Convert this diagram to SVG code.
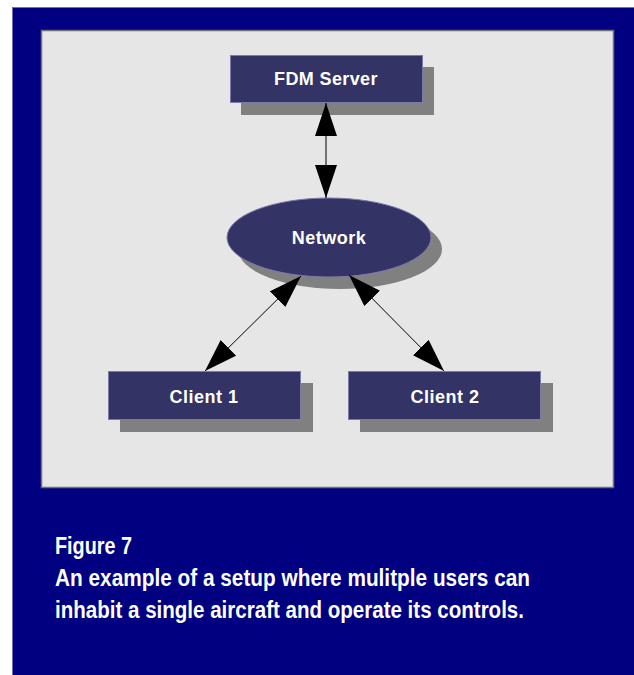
<svg xmlns="http://www.w3.org/2000/svg" width="634" height="675" viewBox="0 0 634 675">
  <defs>
    <style>
      .node { fill: #333366; stroke: #7a7aaa; stroke-width: 1; }
      .shadow { fill: #808080; }
      .label { font-family: "Liberation Sans", Arial, sans-serif; font-weight: bold; font-size: 18px; fill: #ffffff; text-anchor: middle; letter-spacing: 0.5px; }
      .cap { font-family: "Liberation Sans Narrow", "Liberation Sans", Arial, sans-serif; font-weight: bold; font-size: 24px; fill: #ffffff; }
      .conn { stroke: #000000; stroke-width: 1; fill: none; }
    </style>
    <marker id="arrow" viewBox="0 0 33 22" refX="33" refY="11" markerWidth="33" markerHeight="22" markerUnits="userSpaceOnUse" orient="auto-start-reverse">
      <path d="M0,0 L33,11 L0,22 z" fill="#000000"/>
    </marker>
  </defs>

  <rect x="0" y="0" width="634" height="675" fill="#ffffff"/>
  <rect x="12.5" y="7.5" width="622" height="668" fill="#000080" stroke="#7070b0" stroke-width="1"/>
  <rect x="41.5" y="30.5" width="572" height="457" fill="#e6e6e6" stroke="#707070" stroke-width="1.5"/>

  <g id="fdm-server">
    <rect class="shadow" x="241" y="67" width="193" height="48"/>
    <rect class="node" x="230.5" y="55.5" width="192" height="47"/>
    <text class="label" x="326" y="85" textLength="104">FDM Server</text>
  </g>

  <g id="network">
    <ellipse class="shadow" cx="340" cy="249" rx="102" ry="40"/>
    <ellipse class="node" cx="329" cy="237.5" rx="102" ry="39.5"/>
    <text class="label" x="329" y="244">Network</text>
  </g>

  <g id="client-1">
    <rect class="shadow" x="120" y="383" width="193" height="49"/>
    <rect class="node" x="108.5" y="371.5" width="192" height="48"/>
    <text class="label" x="204" y="402.5">Client 1</text>
  </g>

  <g id="client-2">
    <rect class="shadow" x="360" y="383" width="193" height="49"/>
    <rect class="node" x="348.5" y="371.5" width="192" height="48"/>
    <text class="label" x="445" y="402.5">Client 2</text>
  </g>

  <g id="connectors">
    <line class="conn" x1="326" y1="103" x2="326" y2="198" marker-start="url(#arrow)" marker-end="url(#arrow)"/>
    <line class="conn" x1="301" y1="276" x2="205" y2="371" marker-start="url(#arrow)" marker-end="url(#arrow)"/>
    <line class="conn" x1="349" y1="275" x2="444" y2="371" marker-start="url(#arrow)" marker-end="url(#arrow)"/>
  </g>

  <g id="caption">
    <text class="cap" x="55" y="554" textLength="77" lengthAdjust="spacingAndGlyphs">Figure 7</text>
    <text class="cap" x="55" y="586" textLength="475" lengthAdjust="spacingAndGlyphs">An example of a setup where mulitple users can</text>
    <text class="cap" x="55" y="618" textLength="469" lengthAdjust="spacingAndGlyphs">inhabit a single aircraft and operate its controls.</text>
  </g>
</svg>
